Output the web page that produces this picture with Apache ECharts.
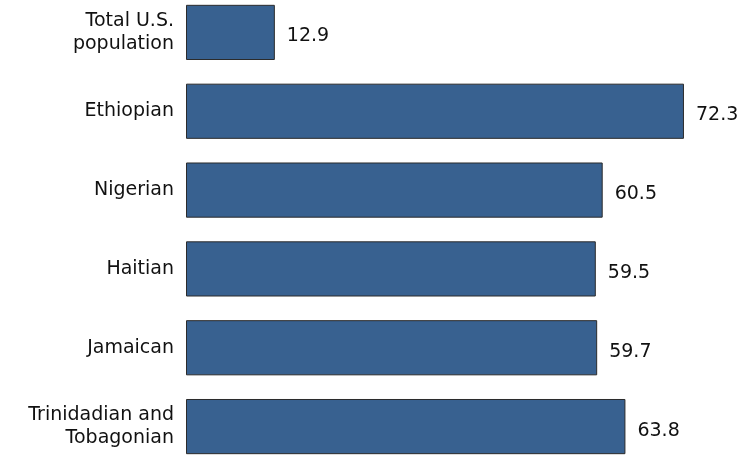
<!DOCTYPE html>
<html>
<head>
<meta charset="utf-8">
<script src="https://cdn.jsdelivr.net/npm/echarts@6/dist/echarts.min.js"></script>
<style>
html,body{margin:0;padding:0;background:#fff;overflow:hidden;width:749px;height:455px;}
#chart{position:absolute;left:0;top:-7px;width:749px;height:473px;}
</style>
</head>
<body>
<div id="chart"></div>
<script>
var categories = ["Total U.S.\npopulation", "Ethiopian", "Nigerian", "Haitian", "Jamaican", "Trinidadian and\nTobagonian"];
var values = [12.9, 72.3, 60.5, 59.5, 59.7, 63.8];
var valueLabels = ["12.9", "72.3", "60.5", "59.5", "59.7", "63.8"];

var chart = echarts.init(document.getElementById('chart'), null, {renderer: 'canvas'});
var font = '"DejaVu Sans", Verdana, sans-serif';
chart.setOption({
  animation: false,
  grid: {left: 186, right: 12, top: 0, bottom: 0, containLabel: false},
  xAxis: {
    type: 'value', min: 0, max: 80, show: false
  },
  yAxis: {
    type: 'category', data: categories, inverse: true,
    axisLine: {show: false}, axisTick: {show: false}, splitLine: {show: false},
    axisLabel: {fontFamily: font, fontSize: 19, color: '#111', margin: 12, lineHeight: 23, align: 'right'}
  },
  series: [{
    type: 'bar', data: values, barCategoryGap: '30%',
    itemStyle: {color: '#386190', borderColor: '#2b2b2b', borderWidth: 1},
    label: {
      show: true, position: 'right', distance: 12, offset: [0, 4],
      fontFamily: font, fontSize: 19, color: '#111',
      formatter: function (p) { return valueLabels[p.dataIndex]; }
    }
  }]
});
</script>
</body>
</html>
